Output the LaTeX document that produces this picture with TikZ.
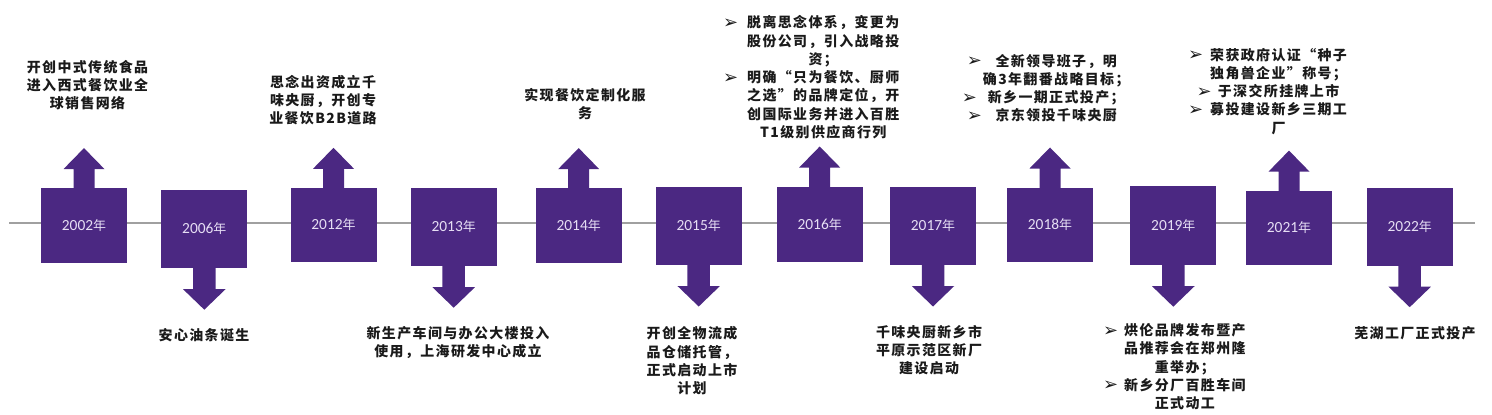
\documentclass[tikz,border=0pt]{standalone}
\usepackage{fontspec}
\usetikzlibrary{calc}
\newfontfamily\cjk{Noto Sans CJK SC}[LetterSpace=10]
\newfontfamily\cjkplain{Noto Sans CJK SC}
\newfontfamily\yearfont{Carlito}
\newfontfamily\symfont{DejaVu Sans}
\definecolor{boxpurple}{HTML}{4B2882}
\definecolor{labelcol}{HTML}{E6DEF4}
\definecolor{linegray}{HTML}{A0A0A0}
\definecolor{txt}{HTML}{1A1A1A}
\newcommand\bul{\makebox[12bp][l]{\raisebox{-0.5bp}{\symfont\bfseries\fontsize{18}{18}\selectfont ➢}}}
\newcommand\yr[1]{\raisebox{-3bp}{{\yearfont\fontsize{15.5}{16}\selectfont #1}{\cjkplain\fontsize{13}{16}\selectfont 年}}}
\newcommand\arrowup[1]{\fill[boxpurple] ($(#1.north)+(-10.5,-0.5)$) -- ++(0,19.5) -- ++(-10,0) -- ($(#1.north)+(0,40)$) -- ($(#1.north)+(20.5,19)$) -- ++(-10,0) -- ++(0,-19.5) -- cycle;}
\newcommand\arrowdown[1]{\fill[boxpurple] ($(#1.south)+(-11.25,0.5)$) -- ++(0,-21.5) -- ++(-10,0) -- ($(#1.south)+(0,-41.5)$) -- ($(#1.south)+(21.25,-21)$) -- ++(-10,0) -- ++(0,21.5) -- cycle;}
\tikzset{
  yearbox/.style={fill=boxpurple, draw=none, minimum width=86bp, inner sep=0pt, text=labelcol},
  evt/.style={font=\cjk\bfseries\fontsize{14}{18.3}\selectfont, align=center, inner sep=0pt, text=txt},
  evtlist/.style={font=\cjk\bfseries\fontsize{14}{18.3}\selectfont, inner sep=0pt, text=txt, anchor=west},
  timeline/.style={draw=linegray, line width=1.6bp}
}
\begin{document}
\begin{tikzpicture}[x=1bp,y=1bp]
\useasboundingbox (0,0) rectangle (1492,414);
\coordinate (L) at (9,191);
\coordinate (R) at (1475,191);
\draw[timeline] (L) -- (R);
% boxes
\node[yearbox, minimum height=75bp] (b2002) at (84,188.2) {\yr{2002}};
\node[yearbox, minimum height=78bp] (b2006) at (204.3,185) {\yr{2006}};
\node[yearbox, minimum height=74bp] (b2012) at (333.5,189) {\yr{2012}};
\node[yearbox, minimum height=78bp] (b2013) at (453.7,187) {\yr{2013}};
\node[yearbox, minimum height=75bp] (b2014) at (578.7,188.2) {\yr{2014}};
\node[yearbox, minimum height=78bp] (b2015) at (698.7,188.2) {\yr{2015}};
\node[yearbox, minimum height=75bp] (b2016) at (819.7,189.8) {\yr{2016}};
\node[yearbox, minimum height=78bp] (b2017) at (933,188.2) {\yr{2017}};
\node[yearbox, minimum height=74bp] (b2018) at (1050,189.3) {\yr{2018}};
\node[yearbox, minimum height=79bp] (b2019) at (1173.3,188.5) {\yr{2019}};
\node[yearbox, minimum height=74bp] (b2021) at (1289,186.2) {\yr{2021}};
\node[yearbox, minimum height=78bp] (b2022) at (1409.7,187.5) {\yr{2022}};
% arrows
\arrowup{b2002}
\arrowdown{b2006}
\arrowup{b2012}
\arrowdown{b2013}
\arrowup{b2014}
\arrowdown{b2015}
\arrowup{b2016}
\arrowdown{b2017}
\arrowup{b2018}
\arrowdown{b2019}
\arrowup{b2021}
\arrowdown{b2022}
% texts
\node[evt] (t2002) at (87.5,329) {开创中式传统食品\\进入西式餐饮业全\\球销售网络};
\node[evt] (t2006) at (204,79) {安心油条诞生};
\node[evt] (t2012) at (323,314) {思念出资成立千\\味央厨，开创专\\业餐饮B2B道路};
\node[evt] (t2013) at (458,71.5) {新生产车间与办公大楼投入\\使用，上海研发中心成立};
\node[evt] (t2014) at (585,310) {实现餐饮定制化服\\务};
\node[evt] (t2015) at (692,53.2) {开创全物流成\\品仓储托管，\\正式启动上市\\计划};
\node[evtlist] (t2016) at (723,335) {\begin{tabular}{@{}l@{\hspace{12bp}}c@{}}
\bul & 脱离思念体系，变更为\\
 & 股份公司，引入战略投\\
 & 资；\\
\bul & 明确“只为餐饮、厨师\\
 & 之选”的品牌定位，开\\
 & 创国际业务并进入百胜\\
 & T1级别供应商行列
\end{tabular}};
\node[evt] (t2017) at (929,64) {千味央厨新乡市\\平原示范区新厂\\建设启动};
\node[evtlist] (t2018) at (961.7,324) {\begin{tabular}{@{}l@{\hspace{9bp}}c@{}}
\rlap{\hspace{5bp}\bul} & 全新领导班子，明\\
 & 确3年翻番战略目标；\\
\bul & 新乡一期正式投产；\\
\rlap{\hspace{5bp}\bul} & 京东领投千味央厨
\end{tabular}};
\node[evtlist] (t2019) at (1103,45.5) {\begin{tabular}{@{}l@{\hspace{9bp}}c@{}}
\bul & 烘伦品牌发布暨产\\
 & 品推荐会在郑州隆\\
 & 重举办；\\
\bul & 新乡分厂百胜车间\\
 & 正式动工
\end{tabular}};
\node[evtlist] (t2021) at (1188,321) {\begin{tabular}{@{}l@{\hspace{10bp}}c@{}}
\bul & 荣获政府认证“种子\\
 & 独角兽企业”称号；\\
\rlap{\hspace{8.5bp}\bul} & 于深交所挂牌上市\\
\bul & 募投建设新乡三期工\\
 & 厂
\end{tabular}};
\node[evt] (t2022) at (1415,80.7) {芜湖工厂正式投产};
\end{tikzpicture}
\end{document}
